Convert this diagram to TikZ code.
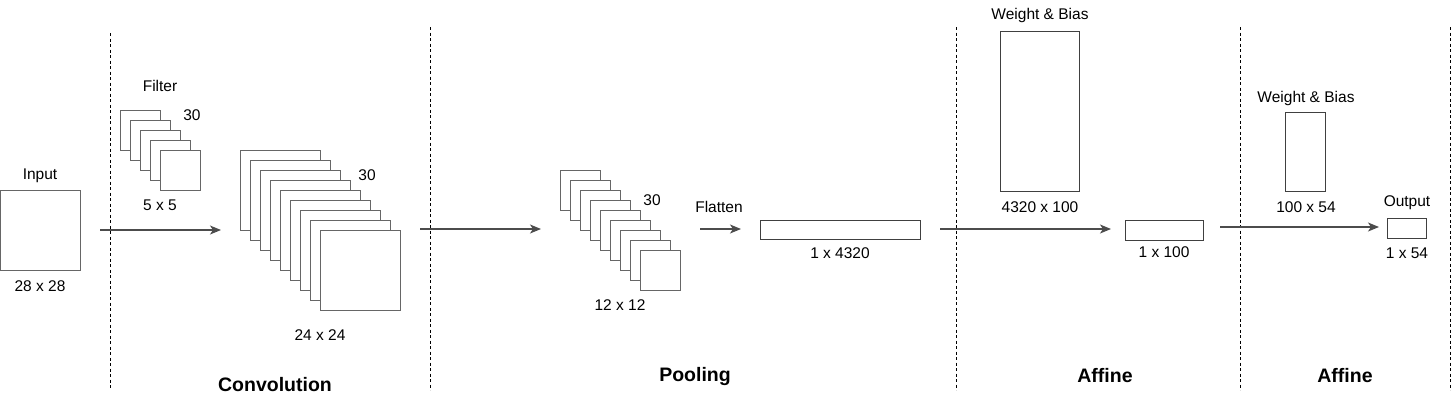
\documentclass[tikz,border=0pt]{standalone}
\usepackage{fontspec}
\setmainfont{Liberation Sans}
\usetikzlibrary{arrows.meta}
\begin{document}
\begin{tikzpicture}[x=1pt,y=-1pt,
  sq/.style={draw=black!60, line width=1.4pt, fill=white, inner sep=0pt, anchor=north west},
  bx/.style={draw=black!75, line width=1.1pt, fill=white, inner sep=0pt, anchor=north west},
  lbl/.style={font=\fontsize{15.5}{18}\selectfont, inner sep=0pt, anchor=center},
  ttl/.style={font=\fontsize{19.5}{22}\selectfont\bfseries, inner sep=0pt, anchor=center},
  sep/.style={draw=black, line width=0.9pt, dash pattern=on 3pt off 2.5pt},
  arr/.style={draw=black!70, line width=1.3pt, -{Stealth[length=11pt,width=9pt,inset=3pt]}}]
\useasboundingbox (0,0) rectangle (1454,400);
% separators
\coordinate (s1t) at (110,33); \coordinate (s1b) at (110,390);
\coordinate (s2t) at (430,27); \coordinate (s2b) at (430,390);
\coordinate (s3t) at (956,27); \coordinate (s3b) at (956,390);
\coordinate (s4t) at (1240,27); \coordinate (s4b) at (1240,390);
\coordinate (s5t) at (1450,27); \coordinate (s5b) at (1450,390);
\draw[sep] (s1t) -- (s1b);
\draw[sep] (s2t) -- (s2b);
\draw[sep] (s3t) -- (s3b);
\draw[sep] (s4t) -- (s4b);
\draw[sep] (s5t) -- (s5b);
% input
\node[sq, minimum width=80pt, minimum height=80pt] (input) at (0,190) {};
\node[lbl] (inputlbl) at (40,176) {Input};
\node[lbl] (inputdim) at (40,286) {28 x 28};
% filter stack
\foreach \i in {0,...,4} {
  \node[sq, minimum width=40pt, minimum height=40pt] (f\i) at (120+10*\i,110+10*\i) {};
}
\node[lbl] (filterlbl) at (160,86) {Filter};
\node[lbl] (filtern) at (192,115) {30};
\node[lbl] (filterdim) at (160,205) {5 x 5};
% conv stack
\foreach \i in {0,...,8} {
  \node[sq, minimum width=80pt, minimum height=80pt] (c\i) at (240+10*\i,150+10*\i) {};
}
\node[lbl] (convn) at (367,175) {30};
\node[lbl] (convdim) at (320,335) {24 x 24};
% pool stack
\foreach \i in {0,...,8} {
  \node[sq, minimum width=40pt, minimum height=40pt] (p\i) at (560+10*\i,170+10*\i) {};
}
\node[lbl] (pooln) at (652,200) {30};
\node[lbl] (pooldim) at (620,305) {12 x 12};
\node[lbl] (flatlbl) at (719,207) {Flatten};
% flat vector
\node[bx, minimum width=160pt, minimum height=19pt] (flat) at (760,220) {};
\node[lbl] (flatdim) at (840,253) {1 x 4320};
% weight 1
\node[bx, minimum width=79pt, minimum height=160pt] (w1) at (1000,31) {};
\node[lbl] (w1lbl) at (1040,15) {Weight \& Bias};
\node[lbl] (w1dim) at (1040,207) {4320 x 100};
% hidden
\node[bx, minimum width=78pt, minimum height=20pt] (hid) at (1125,220) {};
\node[lbl] (hiddim) at (1164,252) {1 x 100};
% weight 2
\node[bx, minimum width=40pt, minimum height=79pt] (w2) at (1285,112) {};
\node[lbl] (w2lbl) at (1306,98) {Weight \& Bias};
\node[lbl] (w2dim) at (1306,207) {100 x 54};
% output
\node[bx, minimum width=39pt, minimum height=20pt] (out) at (1387,218) {};
\node[lbl] (outlbl) at (1407,203) {Output};
\node[lbl] (outdim) at (1407,253) {1 x 54};
% arrows
\coordinate (a1s) at (100,230); \coordinate (a1e) at (221,230);
\coordinate (a2s) at (420,229); \coordinate (a2e) at (541,229);
\coordinate (a3s) at (700,229); \coordinate (a3e) at (741,229);
\coordinate (a4s) at (940,229); \coordinate (a4e) at (1111,229);
\coordinate (a5s) at (1220,227); \coordinate (a5e) at (1379,227);
\draw[arr] (a1s) -- (a1e);
\draw[arr] (a2s) -- (a2e);
\draw[arr] (a3s) -- (a3e);
\draw[arr] (a4s) -- (a4e);
\draw[arr] (a5s) -- (a5e);
% titles
\node[ttl] (t1) at (275,385) {Convolution};
\node[ttl] (t2) at (695,376) {Pooling};
\node[ttl] (t3) at (1105,376) {Affine};
\node[ttl] (t4) at (1345,376) {Affine};
\end{tikzpicture}
\end{document}
